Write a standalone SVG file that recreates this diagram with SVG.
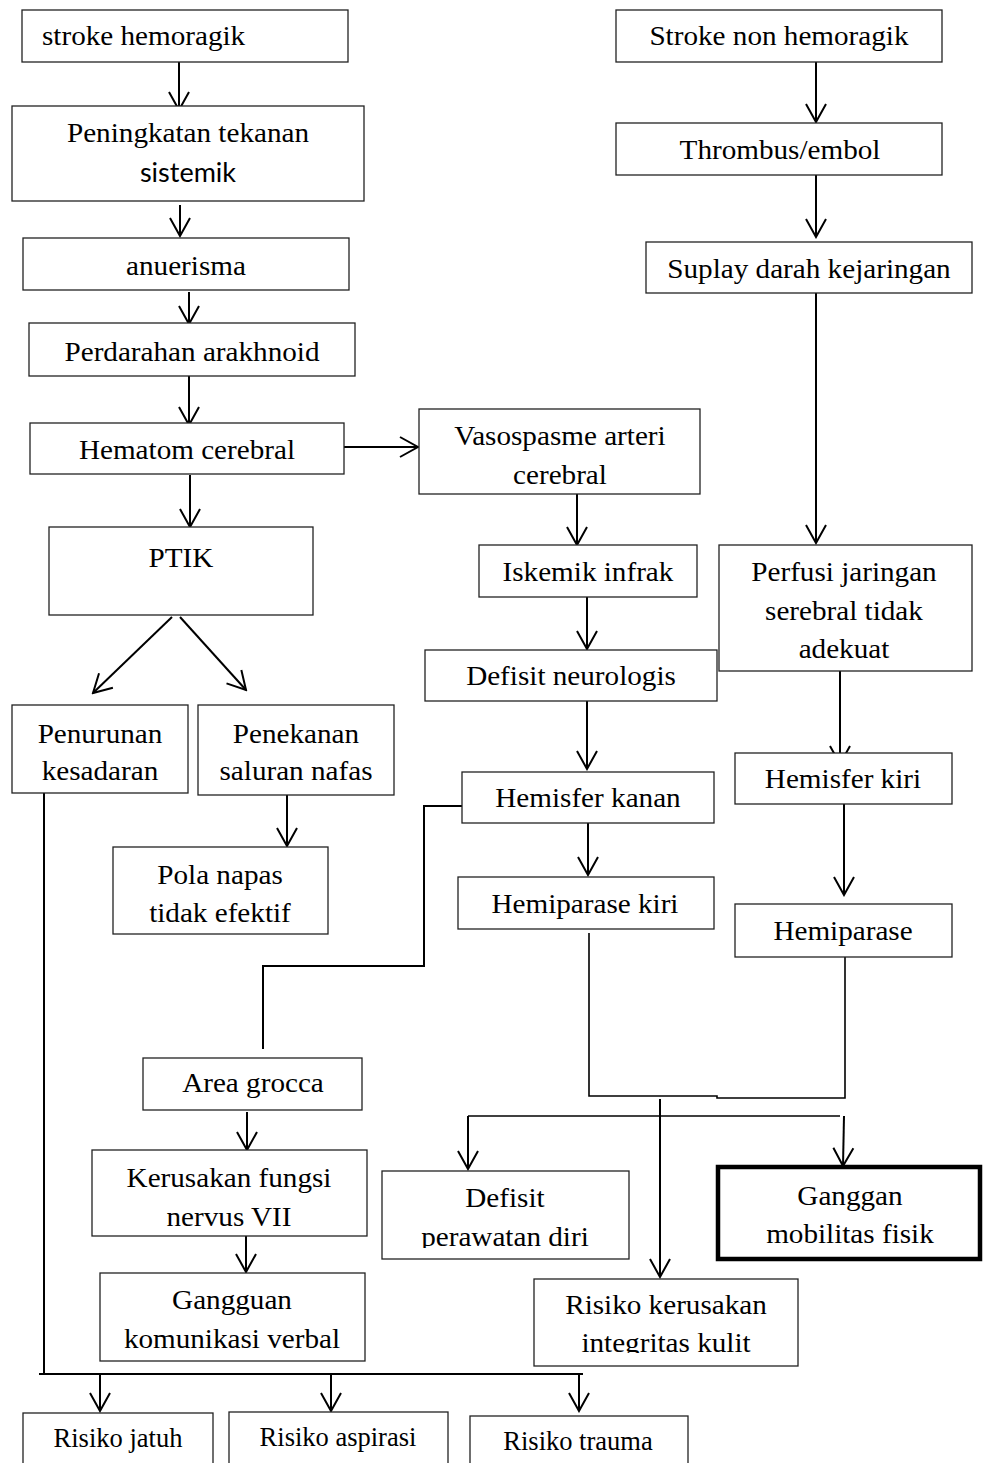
<svg xmlns="http://www.w3.org/2000/svg" width="983" height="1463" viewBox="0 0 983 1463">
<defs>
<style>
.b{fill:#fff;stroke:#222;stroke-width:1.3}
.t{font-family:"Liberation Serif","Times New Roman",serif;font-size:27px;fill:#000;text-anchor:middle;transform:scaleX(1.08);transform-box:fill-box;transform-origin:center}
.tl{text-anchor:start;transform-origin:left center}
.s{font-family:Lato,"Liberation Sans",sans-serif;font-size:27px;fill:#000;text-anchor:middle}
.r{font-family:"Liberation Serif","Times New Roman",serif;font-size:26.5px;fill:#000;text-anchor:middle}
.c{fill:none;stroke:#000;stroke-width:2}
.cl{fill:none;stroke:#000;stroke-width:1.6}
</style>
<marker id="a" viewBox="-20 -12 22 24" refX="0" refY="0" markerWidth="22" markerHeight="24" markerUnits="userSpaceOnUse" orient="auto">
<path d="M-18,-10 L0,0 L-18,10" fill="none" stroke="#000" stroke-width="2"/>
</marker>
<clipPath id="clipDef"><rect x="382" y="1171" width="247" height="77"/></clipPath>
<clipPath id="clipRk"><rect x="534" y="1279" width="264" height="74"/></clipPath>
</defs>
<rect width="983" height="1463" fill="#fff"/>

<g id="connectors">
<line class="c" x1="179" y1="62" x2="179" y2="110" marker-end="url(#a)"/>
<line class="c" x1="180" y1="205" x2="180" y2="236" marker-end="url(#a)"/>
<line class="c" x1="189" y1="292" x2="189" y2="324" marker-end="url(#a)"/>
<line class="c" x1="189" y1="376" x2="189" y2="425" marker-end="url(#a)"/>
<line class="c" x1="190" y1="475" x2="190" y2="527" marker-end="url(#a)"/>
<line class="c" x1="344" y1="447" x2="418" y2="447" marker-end="url(#a)"/>
<line class="c" x1="172" y1="617" x2="93" y2="693" marker-end="url(#a)"/>
<line class="c" x1="180" y1="617" x2="246" y2="690" marker-end="url(#a)"/>
<line class="c" x1="287" y1="795" x2="287" y2="846" marker-end="url(#a)"/>
<polyline class="c" points="44,793 44,1374"/>
<line class="c" x1="39" y1="1374" x2="583" y2="1374"/>
<line class="c" x1="100" y1="1374" x2="100" y2="1411" marker-end="url(#a)"/>
<line class="c" x1="331" y1="1374" x2="331" y2="1411" marker-end="url(#a)"/>
<line class="c" x1="579" y1="1374" x2="579" y2="1411" marker-end="url(#a)"/>
<line class="c" x1="816" y1="62" x2="816" y2="122" marker-end="url(#a)"/>
<line class="c" x1="816" y1="175" x2="816" y2="237" marker-end="url(#a)"/>
<line class="c" x1="816" y1="293" x2="816" y2="543" marker-end="url(#a)"/>
<line class="c" x1="577" y1="494" x2="577" y2="545" marker-end="url(#a)"/>
<line class="c" x1="587" y1="597" x2="587" y2="649" marker-end="url(#a)"/>
<line class="c" x1="587" y1="701" x2="587" y2="769" marker-end="url(#a)"/>
<line class="c" x1="588" y1="823" x2="588" y2="875" marker-end="url(#a)"/>
<polyline class="c" points="462,806 424,806 424,966 263,966 263,1049"/>
<line class="c" x1="247" y1="1112" x2="247" y2="1150" marker-end="url(#a)"/>
<line class="c" x1="246" y1="1236" x2="246" y2="1272" marker-end="url(#a)"/>
<line class="c" x1="840" y1="671" x2="840" y2="764" marker-end="url(#a)"/>
<line class="c" x1="844" y1="804" x2="844" y2="895" marker-end="url(#a)"/>
<polyline class="cl" points="589,933 589,1096 717,1096 717,1098 845,1098 845,957"/>
<line class="c" x1="660" y1="1099" x2="660" y2="1277" marker-end="url(#a)"/>
<line class="cl" x1="468" y1="1116" x2="840" y2="1116"/>
<line class="c" x1="468" y1="1116" x2="468" y2="1169" marker-end="url(#a)"/>
<line class="c" x1="844" y1="1116" x2="843" y2="1166" marker-end="url(#a)"/>
</g>

<g id="n-stroke-hemoragik"><rect class="b" x="22" y="10" width="326" height="52"/><text class="t tl" x="42" y="45">stroke hemoragik</text></g>
<g id="n-peningkatan"><rect class="b" x="12" y="106" width="352" height="95"/><text class="t" x="188" y="142">Peningkatan tekanan</text><text class="s" x="188" y="182">sistemik</text></g>
<g id="n-anuerisma"><rect class="b" x="23" y="238" width="326" height="52"/><text class="t" x="186" y="275">anuerisma</text></g>
<g id="n-perdarahan"><rect class="b" x="29" y="323" width="326" height="53"/><text class="t" x="192" y="361">Perdarahan arakhnoid</text></g>
<g id="n-hematom"><rect class="b" x="30" y="423" width="314" height="51"/><text class="t" x="187" y="459">Hematom cerebral</text></g>
<g id="n-vasospasme"><rect class="b" x="419" y="409" width="281" height="85"/><text class="t" x="560" y="445">Vasospasme arteri</text><text class="t" x="560" y="484">cerebral</text></g>
<g id="n-ptik"><rect class="b" x="49" y="527" width="264" height="88"/><text class="t" x="181" y="567">PTIK</text></g>
<g id="n-penurunan"><rect class="b" x="12" y="705" width="176" height="88"/><text class="t" x="100" y="743">Penurunan</text><text class="t" x="100" y="780">kesadaran</text></g>
<g id="n-penekanan"><rect class="b" x="198" y="705" width="196" height="90"/><text class="t" x="296" y="743">Penekanan</text><text class="t" x="296" y="780">saluran nafas</text></g>
<g id="n-pola-napas"><rect class="b" x="113" y="847" width="215" height="87"/><text class="t" x="220" y="884">Pola napas</text><text class="t" x="220" y="922">tidak efektif</text></g>
<g id="n-stroke-non"><rect class="b" x="616" y="10" width="326" height="52"/><text class="t" x="779" y="45">Stroke non hemoragik</text></g>
<g id="n-thrombus"><rect class="b" x="616" y="123" width="326" height="52"/><text class="t" x="780" y="159">Thrombus/embol</text></g>
<g id="n-suplay"><rect class="b" x="646" y="242" width="326" height="51"/><text class="t" x="809" y="278">Suplay darah kejaringan</text></g>
<g id="n-iskemik"><rect class="b" x="479" y="545" width="218" height="52"/><text class="t" x="588" y="581">Iskemik infrak</text></g>
<g id="n-perfusi"><rect class="b" x="719" y="545" width="253" height="126"/><text class="t" x="844" y="581">Perfusi jaringan</text><text class="t" x="844" y="620">serebral tidak</text><text class="t" x="844" y="658">adekuat</text></g>
<g id="n-defisit-neuro"><rect class="b" x="425" y="650" width="292" height="51"/><text class="t" x="571" y="685">Defisit neurologis</text></g>
<g id="n-hemisfer-kanan"><rect class="b" x="462" y="772" width="252" height="51"/><text class="t" x="588" y="807">Hemisfer kanan</text></g>
<g id="n-hemisfer-kiri"><rect class="b" x="735" y="753" width="217" height="51"/><text class="t" x="843" y="788">Hemisfer kiri</text></g>
<g id="n-hemiparase-kiri"><rect class="b" x="458" y="877" width="256" height="52"/><text class="t" x="585" y="913">Hemiparase kiri</text></g>
<g id="n-hemiparase"><rect class="b" x="735" y="904" width="217" height="53"/><text class="t" x="843" y="940">Hemiparase</text></g>
<g id="n-area-grocca"><rect class="b" x="143" y="1058" width="219" height="52"/><text class="t" x="253" y="1092">Area grocca</text></g>
<g id="n-kerusakan"><rect class="b" x="92" y="1150" width="275" height="86"/><text class="t" x="229" y="1187">Kerusakan fungsi</text><text class="t" x="229" y="1226">nervus VII</text></g>
<g id="n-gangguan-kom"><rect class="b" x="100" y="1273" width="265" height="88"/><text class="t" x="232" y="1309">Gangguan</text><text class="t" x="232" y="1348">komunikasi verbal</text></g>
<g id="n-defisit-perawatan"><rect class="b" x="382" y="1171" width="247" height="88"/><text class="t" x="505" y="1207">Defisit</text><text class="t" x="505" y="1246" clip-path="url(#clipDef)">perawatan diri</text></g>
<g id="n-ganggan-mobilitas"><rect x="718" y="1167" width="262" height="92" fill="#fff" stroke="#000" stroke-width="4.5"/><text class="t" x="850" y="1205">Ganggan</text><text class="t" x="850" y="1243">mobilitas fisik</text></g>
<g id="n-risiko-kulit"><rect class="b" x="534" y="1279" width="264" height="87"/><text class="t" x="666" y="1314">Risiko kerusakan</text><text class="t" x="666" y="1352" clip-path="url(#clipRk)">integritas kulit</text></g>
<g id="n-risiko-jatuh"><rect class="b" x="23" y="1413" width="190" height="60"/><text class="r" x="118" y="1447">Risiko jatuh</text></g>
<g id="n-risiko-aspirasi"><rect class="b" x="229" y="1412" width="219" height="60"/><text class="r" x="338" y="1446">Risiko aspirasi</text></g>
<g id="n-risiko-trauma"><rect class="b" x="470" y="1416" width="218" height="60"/><text class="r" x="578" y="1450">Risiko trauma</text></g>
</svg>
